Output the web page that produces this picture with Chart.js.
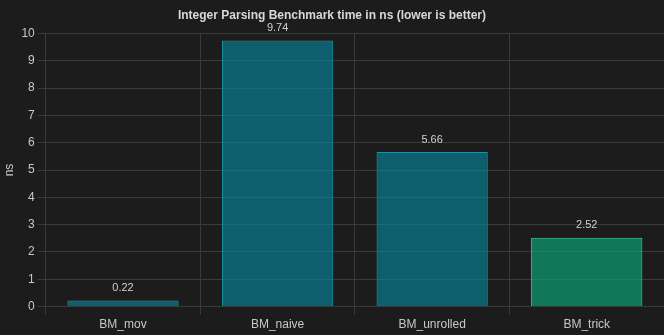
<!DOCTYPE html>
<html>
<head>
<meta charset="utf-8">
<script src="https://cdn.jsdelivr.net/npm/chart.js@4/dist/chart.umd.min.js"></script>
<style>
  html, body { margin: 0; padding: 0; background: #1c1c1c; }
  #wrap { width: 664px; height: 335px; }
</style>
</head>
<body>
<div id="wrap"><canvas id="c"></canvas></div>
<script>
const categories = ['BM_mov', 'BM_naive', 'BM_unrolled', 'BM_trick'];
const timesNs = [0.22, 9.74, 5.66, 2.52];
const yTicks = [0, 1, 2, 3, 4, 5, 6, 7, 8, 9, 10];

// fastest entry is highlighted in green
const fills = ['rgba(5,140,163,0.6)', 'rgba(5,140,163,0.6)', 'rgba(5,140,163,0.6)', 'rgba(10,180,130,0.6)'];
const borders = ['#1a93a8', '#1a93a8', '#1a93a8', '#3ac48f'];

const valueLabels = {
  id: 'valueLabels',
  afterDatasetsDraw(chart) {
    const ctx = chart.ctx;
    const meta = chart.getDatasetMeta(0);
    ctx.save();
    ctx.fillStyle = '#d0d0d0';
    ctx.font = '11px "Liberation Sans", Arial, sans-serif';
    ctx.textAlign = 'center';
    ctx.textBaseline = 'bottom';
    meta.data.forEach((bar, i) => {
      ctx.fillText(timesNs[i].toFixed(2), bar.x, bar.y - 7);
    });
    ctx.restore();
  }
};

Chart.defaults.font.family = '"Liberation Sans", Arial, sans-serif';
Chart.defaults.color = '#c8c8c8';

new Chart(document.getElementById('c'), {
  type: 'bar',
  data: {
    labels: categories,
    datasets: [{
      data: timesNs,
      backgroundColor: fills,
      borderColor: borders,
      borderWidth: 1
    }]
  },
  options: {
    responsive: true,
    maintainAspectRatio: false,
    animation: false,
    layout: { padding: { top: 0, right: 0, bottom: 0, left: 0 } },
    plugins: {
      legend: { display: false },
      tooltip: { enabled: false },
      title: {
        display: true,
        text: 'Integer Parsing Benchmark time in ns (lower is better)',
        color: '#d8d8d8',
        font: { size: 12, weight: 'bold' },
        padding: { top: 8, bottom: 11 }
      }
    },
    scales: {
      x: {
        grid: { color: '#3a3a3a', offset: true, tickLength: 8 },
        border: { color: '#3a3a3a' },
        ticks: { color: '#c8c8c8', font: { size: 12 }, padding: 3 }
      },
      y: {
        min: 0,
        max: 10,
        afterBuildTicks(axis) { axis.ticks = yTicks.map(v => ({ value: v })); },
        grid: { color: '#3a3a3a', tickLength: 8 },
        border: { color: '#3a3a3a' },
        ticks: { color: '#c8c8c8', font: { size: 12 }, padding: 3 },
        title: { display: true, text: 'ns', color: '#c8c8c8', font: { size: 12 }, padding: 2 }
      }
    }
  },
  plugins: [valueLabels]
});
</script>
</body>
</html>
